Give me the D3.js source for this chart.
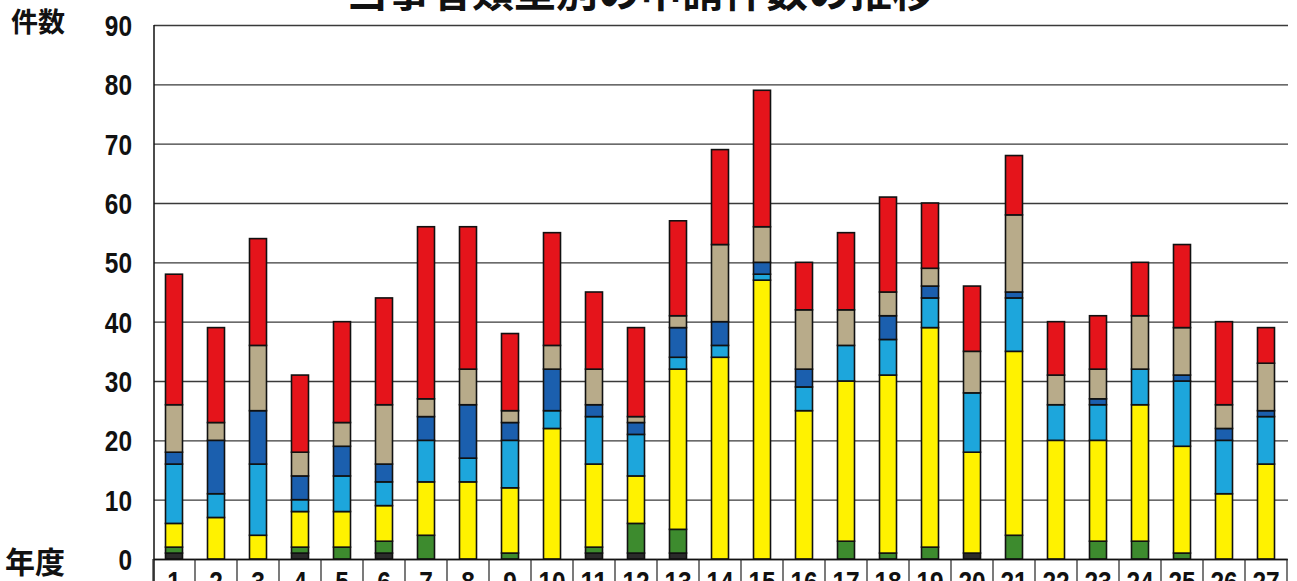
<!DOCTYPE html>
<html>
<head>
<meta charset="utf-8">
<script src="https://cdn.jsdelivr.net/npm/d3@7"></script>
<style>
  html, body { margin: 0; padding: 0; background: #ffffff; }
  svg { display: block; }
</style>
</head>
<body>
<svg id="chart" width="1297" height="581"></svg>
<script>
// Fiscal year index (年度)
const categories = ["1","2","3","4","5","6","7","8","9","10","11","12","13","14",
                    "15","16","17","18","19","20","21","22","23","24","25","26","27"];

// Stacked segments, listed bottom to top
const black     = [1,0,0,1,0,1,0,0,0,0,1,1,1,0,0,0,0,0,0,1,0,0,0,0,0,0,0];
const green     = [1,0,0,1,2,2,4,0,1,0,1,5,4,0,0,0,3,1,2,0,4,0,3,3,1,0,0];
const yellow    = [4,7,4,6,6,6,9,13,11,22,14,8,27,34,47,25,27,30,37,17,31,20,17,23,18,11,16];
const lightBlue = [10,4,12,2,6,4,7,4,8,3,8,7,2,2,1,4,6,6,5,10,9,6,6,6,11,9,8];
const blue      = [2,9,9,4,5,3,4,9,3,7,2,2,5,4,2,3,0,4,2,0,1,0,1,0,1,2,1];
const tan       = [8,3,11,4,4,10,3,6,2,4,6,1,2,13,6,10,6,4,3,7,13,5,5,9,8,4,8];
const red       = [22,16,18,13,17,18,29,24,13,19,13,15,16,16,23,8,13,16,11,11,10,9,9,9,14,14,6];

const yTicks = [0,10,20,30,40,50,60,70,80,90];

const seriesKeys = ["black","green","yellow","lightBlue","blue","tan","red"];
const seriesValues = { black, green, yellow, lightBlue, blue, tan, red };
const fills = {
  black: "#2b2b2b", green: "#3d8b2e", yellow: "#fff200", lightBlue: "#1da6dc",
  blue: "#1b5fae", tan: "#b8ab8a", red: "#e5141b"
};

const rows = categories.map((c, i) => {
  const r = { year: c };
  seriesKeys.forEach(k => r[k] = seriesValues[k][i]);
  return r;
});

const svg = d3.select("#chart");
const plotLeft = 154, plotRight = 1288, plotTop = 25, plotBottom = 559;

const x = d3.scaleBand().domain(categories).range([plotLeft - 1, plotRight - 1]).padding(0);
const y = d3.scaleLinear().domain([0, 90]).range([plotBottom, plotTop]);
const barW = 17;

const numFont = "'Liberation Sans', Arial, sans-serif";
const jpFont = "'Noto Sans CJK JP', 'Noto Sans CJK SC', sans-serif";
const digitW = 13.6; // condensed digit advance

// Title (sits partly above the top edge)
svg.append("text")
  .attr("x", 640).attr("y", 7)
  .attr("text-anchor", "middle")
  .attr("font-family", jpFont)
  .attr("font-weight", 700)
  .attr("font-size", 42)
  .attr("fill", "#111")
  .text("当事者類型別の申請件数の推移");

// Horizontal gridlines
const yAxis = d3.axisLeft(y).tickValues(yTicks).tickSize(-(plotRight - plotLeft)).tickFormat(d3.format("d"));
const gy = svg.append("g").attr("transform", `translate(${plotLeft},0)`).call(yAxis);
gy.select(".domain").remove();
gy.selectAll(".tick line").attr("stroke", "#3a3a3a").attr("stroke-width", 1.3);
gy.selectAll(".tick text")
  .attr("x", -22)
  .attr("dy", "0.36em")
  .attr("font-family", numFont)
  .attr("font-weight", 700)
  .attr("font-size", 29)
  .attr("fill", "#111")
  .attr("textLength", d => String(d).length * digitW)
  .attr("lengthAdjust", "spacingAndGlyphs");

// Vertical axis line
svg.append("line")
  .attr("x1", plotLeft).attr("x2", plotLeft)
  .attr("y1", plotTop).attr("y2", 581)
  .attr("stroke", "#111").attr("stroke-width", 1.5);

// Stacked bars
const stacked = d3.stack().keys(seriesKeys)(rows);
const layers = svg.append("g").selectAll("g")
  .data(stacked)
  .join("g")
  .attr("fill", d => fills[d.key]);

layers.selectAll("rect")
  .data(d => d.filter(s => s[1] - s[0] > 0))
  .join("rect")
  .attr("x", d => x(d.data.year) + x.bandwidth() / 2 - barW / 2)
  .attr("width", barW)
  .attr("y", d => y(d[1]))
  .attr("height", d => y(d[0]) - y(d[1]))
  .attr("stroke", "#111")
  .attr("stroke-width", 1.6);

// Year label row below the baseline
const xAxis = d3.axisBottom(x).tickSize(0).tickFormat(d => d);
const gx = svg.append("g").attr("transform", `translate(0,${plotBottom})`).call(xAxis);
gx.select(".domain").attr("stroke", "#111").attr("stroke-width", 1.5);
gx.selectAll(".tick text")
  .attr("y", 33)
  .attr("dy", 0)
  .attr("font-family", numFont)
  .attr("font-weight", 700)
  .attr("font-size", 29)
  .attr("fill", "#111")
  .attr("textLength", d => d.length * digitW)
  .attr("lengthAdjust", "spacingAndGlyphs");

// Cell dividers of the label row
svg.append("g").selectAll("line")
  .data(categories.concat(["end"]))
  .join("line")
  .attr("x1", (d, i) => x.range()[0] + i * x.bandwidth())
  .attr("x2", (d, i) => x.range()[0] + i * x.bandwidth())
  .attr("y1", plotBottom).attr("y2", 581)
  .attr("stroke", "#222").attr("stroke-width", 1.2);

// Axis captions
svg.append("text")
  .attr("x", 11).attr("y", 32)
  .attr("font-family", jpFont).attr("font-weight", 700).attr("font-size", 27)
  .attr("fill", "#111").text("件数");
svg.append("text")
  .attr("x", 5).attr("y", 573)
  .attr("font-family", jpFont).attr("font-weight", 700).attr("font-size", 30)
  .attr("fill", "#111").text("年度");
</script>
</body>
</html>
